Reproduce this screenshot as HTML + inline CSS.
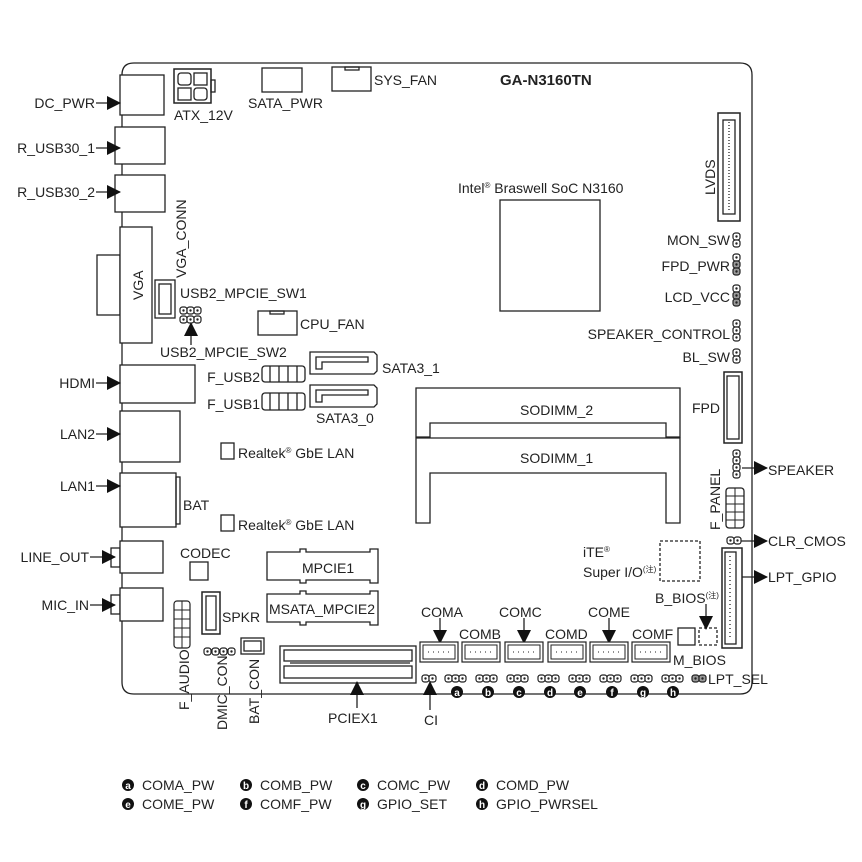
<!DOCTYPE html>
<html><head><meta charset="utf-8"><style>
html,body{margin:0;padding:0;background:#fff}
svg{display:block}
text{font-family:"Liberation Sans","Noto Sans CJK SC",sans-serif;font-size:14px;fill:#222}
</style></head><body>
<svg width="862" height="862" viewBox="0 0 862 862" xmlns="http://www.w3.org/2000/svg">
<defs>
<marker id="ar" markerWidth="10" markerHeight="10" refX="9" refY="5" orient="auto" markerUnits="userSpaceOnUse"><path d="M0,0 L10,5 L0,10 Z" fill="#111"/></marker>
<marker id="ar2" markerWidth="14" markerHeight="14" refX="13" refY="7" orient="auto" markerUnits="userSpaceOnUse"><path d="M0,0 L14,7 L0,14 Z" fill="#111"/></marker>
<g id="pinH"><rect x="0" y="0" width="7" height="7" rx="2.5" fill="#fff" stroke="#222" stroke-width="1.2"/><circle cx="3.5" cy="3.5" r="1.2" fill="#222"/></g>
<g id="pinG"><rect x="0" y="0" width="7" height="7" rx="2.5" fill="#999" stroke="#222" stroke-width="1.2"/><circle cx="3.5" cy="3.5" r="1.2" fill="#222"/></g>
<g id="com"><rect x="0" y="0" width="38" height="20" fill="#fff" stroke="#222" stroke-width="1.2"/><rect x="3" y="3" width="32" height="14" fill="#fff" stroke="#222"/><path d="M8,10 h1 M13,10 h1 M18,10 h1 M23,10 h1 M28,10 h1" stroke="#222" stroke-dasharray="1 1"/></g>
<g id="j3"><use href="#pinH" x="0"/><use href="#pinH" x="7"/><use href="#pinH" x="14"/></g>
</defs>
<g fill="none" stroke="#222" stroke-width="1.3">
<!-- board -->
<path d="M134,63 H740 Q752,63 752,75 V682 Q752,694 740,694 H134 Q122,694 122,682 V75 Q122,63 134,63 Z"/>
<!-- left IO -->
<rect x="120" y="75" width="44" height="40" fill="#fff"/>
<rect x="115" y="127" width="50" height="37" fill="#fff"/>
<rect x="115" y="175" width="50" height="37" fill="#fff"/>
<rect x="97" y="255" width="23" height="60" fill="#fff"/>
<rect x="120" y="227" width="32" height="116" fill="#fff"/>
<rect x="120" y="365" width="75" height="38" fill="#fff"/>
<rect x="120" y="411" width="60" height="51" fill="#fff"/>
<rect x="120" y="473" width="56" height="54" fill="#fff"/>
<rect x="176" y="477" width="4" height="47"/>
<rect x="111" y="548" width="9" height="19" fill="#fff"/>
<rect x="120" y="541" width="43" height="32" fill="#fff"/>
<rect x="111" y="595" width="9" height="19" fill="#fff"/>
<rect x="120" y="588" width="43" height="33" fill="#fff"/>
<!-- top -->
<rect x="174" y="69" width="37" height="34" fill="#fff" stroke-width="1.5"/>
<rect x="211" y="80" width="4" height="12"/>
<rect x="178" y="73" width="13" height="12" rx="3"/><rect x="194" y="73" width="13" height="12"/>
<rect x="178" y="88" width="13" height="12"/><rect x="194" y="88" width="13" height="12" rx="3"/>
<rect x="262" y="68" width="40" height="24"/>
<rect x="332" y="67" width="39" height="24"/><rect x="345" y="67" width="14" height="3"/>
<!-- SoC -->
<rect x="500" y="200" width="100" height="111"/>
<!-- LVDS -->
<rect x="718" y="113" width="22" height="108" stroke-width="1.5"/>
<rect x="723" y="120" width="12" height="94"/>
<line x1="729" y1="122" x2="729" y2="212" stroke-dasharray="1 2"/>
<!-- VGA_CONN -->
<rect x="155" y="280" width="20" height="38"/><rect x="159" y="284" width="12" height="30"/>
<!-- CPU_FAN -->
<rect x="258" y="311" width="39" height="24"/><rect x="270" y="311" width="14" height="3"/>
<!-- SATA -->
<path d="M310,352 H374 L377,355 V371 L374,374 H310 Z"/><path d="M316,357 H368 V362 H322 V369 H316 Z"/>
<path d="M310,385 H374 L377,388 V404 L374,407 H310 Z"/><path d="M316,390 H368 V395 H322 V402 H316 Z"/>
<!-- F_USB -->
<rect x="262" y="366" width="43" height="16" rx="3"/>
<rect x="262" y="393" width="43" height="17" rx="3"/>
<path d="M270,366 V382 M279,366 V382 M288,366 V382 M297,366 V382 M270,393 V410 M279,393 V410 M288,393 V410 M297,393 V410"/>
<!-- SODIMM -->
<path d="M416,388 H680 V437 H666 V423 H430 V437 H416 Z"/>
<path d="M416,438 H680 V523 H666 V473 H430 V523 H416 Z"/>
<!-- FPD -->
<rect x="724" y="372" width="18" height="71" stroke-width="1.5"/><rect x="727" y="376" width="12" height="63"/>
<!-- Realtek -->
<rect x="221" y="443" width="13" height="16"/>
<rect x="221" y="515" width="13" height="16"/>
<!-- codec -->
<rect x="190" y="562" width="18" height="18"/>
<!-- MPCIE -->
<path d="M267,552 H300 V549 H306 V552 H370 V549 H378 V583 H370 V580 H306 V583 H300 V580 H267 Z"/>
<path d="M267,594 H300 V591 H306 V594 H370 V591 H378 V625 H370 V622 H306 V625 H300 V622 H267 Z"/>
<!-- SPKR -->
<rect x="202" y="592" width="18" height="42" stroke-width="1.5"/><rect x="206" y="596" width="10" height="34"/>
<!-- BAT_CON -->
<rect x="241" y="638" width="23" height="16"/><rect x="244" y="641" width="17" height="10"/>
<!-- PCIEX1 -->
<rect x="280" y="646" width="136" height="37"/>
<rect x="284" y="650" width="128" height="11"/><rect x="284" y="666" width="128" height="12"/>
<line x1="290" y1="663" x2="410" y2="663"/>
<!-- Super IO / bios -->
<rect x="660" y="541" width="40" height="40" stroke-dasharray="3 2"/>
<rect x="678" y="628" width="17" height="17"/>
<rect x="699" y="628" width="18" height="17" stroke-dasharray="3 2"/>
<!-- LPT_GPIO -->
<rect x="722" y="548" width="20" height="100" stroke-width="1.5"/><rect x="725" y="552" width="11" height="92"/>
<line x1="730" y1="556" x2="730" y2="640" stroke-dasharray="1 3"/>
<!-- arrows left -->
<line x1="96" y1="103" x2="120" y2="103" marker-end="url(#ar2)"/>
<line x1="96" y1="148" x2="120" y2="148" marker-end="url(#ar2)"/>
<line x1="96" y1="192" x2="120" y2="192" marker-end="url(#ar2)"/>
<line x1="96" y1="383" x2="120" y2="383" marker-end="url(#ar2)"/>
<line x1="96" y1="434" x2="120" y2="434" marker-end="url(#ar2)"/>
<line x1="96" y1="486" x2="120" y2="486" marker-end="url(#ar2)"/>
<line x1="90" y1="557" x2="115" y2="557" marker-end="url(#ar2)"/>
<line x1="90" y1="605" x2="115" y2="605" marker-end="url(#ar2)"/>
<!-- arrows right -->
<line x1="742" y1="468" x2="767" y2="468" marker-end="url(#ar2)"/>
<line x1="740" y1="541" x2="767" y2="541" marker-end="url(#ar2)"/>
<line x1="742" y1="577" x2="767" y2="577" marker-end="url(#ar2)"/>
<!-- vertical arrows -->
<line x1="191" y1="345" x2="191" y2="323" marker-end="url(#ar2)"/>
<line x1="357" y1="708" x2="357" y2="682" marker-end="url(#ar2)"/>
<line x1="430" y1="710" x2="430" y2="682" marker-end="url(#ar2)"/>
<line x1="440" y1="618" x2="440" y2="643" marker-end="url(#ar2)"/>
<line x1="524" y1="618" x2="524" y2="643" marker-end="url(#ar2)"/>
<line x1="609" y1="618" x2="609" y2="643" marker-end="url(#ar2)"/>
<line x1="706" y1="604" x2="706" y2="629" marker-end="url(#ar2)"/>
</g>
<!-- COM connectors -->
<use href="#com" x="420" y="642"/><use href="#com" x="462" y="642"/><use href="#com" x="505" y="642"/>
<use href="#com" x="548" y="642"/><use href="#com" x="590" y="642"/><use href="#com" x="632" y="642"/>
<!-- pins: USB2_MPCIE_SW2 -->
<use href="#j3" x="180" y="307"/><use href="#j3" x="180" y="316"/>
<!-- DMIC -->
<use href="#pinH" x="204" y="648"/><use href="#pinH" x="212" y="648"/><use href="#pinH" x="220" y="648"/><use href="#pinH" x="228" y="648"/>
<!-- F_AUDIO -->
<g><rect x="174" y="601" width="16" height="47" rx="3" fill="#fff" stroke="#222" stroke-width="1.2"/>
<path d="M174,610 H190 M174,619 H190 M174,628 H190 M174,637 H190 M182,601 V648" stroke="#222"/></g>
<!-- F_PANEL -->
<use href="#pinH" x="733" y="450"/><use href="#pinH" x="733" y="457"/><use href="#pinH" x="733" y="464"/><use href="#pinH" x="733" y="471"/>
<g><rect x="726" y="488" width="18" height="40" rx="3" fill="#fff" stroke="#222" stroke-width="1.3"/>
<path d="M726,496 H744 M726,504 H744 M726,512 H744 M726,520 H744 M735,488 V528" stroke="#222"/></g>
<use href="#pinH" x="727" y="537"/><use href="#pinH" x="734" y="537"/>
<!-- right jumpers -->
<use href="#pinH" x="733" y="233"/><use href="#pinH" x="733" y="240"/>
<use href="#pinH" x="733" y="254"/><use href="#pinG" x="733" y="261"/><use href="#pinG" x="733" y="268"/>
<use href="#pinH" x="733" y="285"/><use href="#pinG" x="733" y="292"/><use href="#pinG" x="733" y="299"/>
<use href="#pinH" x="733" y="320"/><use href="#pinH" x="733" y="327"/><use href="#pinH" x="733" y="334"/>
<use href="#pinH" x="733" y="349"/><use href="#pinH" x="733" y="356"/>
<!-- bottom jumper row -->
<use href="#pinH" x="422" y="675"/><use href="#pinH" x="429" y="675"/>
<use href="#j3" x="445" y="675"/><use href="#j3" x="476" y="675"/><use href="#j3" x="507" y="675"/><use href="#j3" x="538" y="675"/>
<use href="#j3" x="569" y="675"/><use href="#j3" x="600" y="675"/><use href="#j3" x="631" y="675"/><use href="#j3" x="662" y="675"/>
<use href="#pinG" x="692" y="675"/><use href="#pinG" x="699" y="675"/>
<!-- circled letters -->
<g font-family="Liberation Serif" font-weight="bold">
<g fill="#111"><circle cx="457" cy="692" r="6"/><circle cx="488" cy="692" r="6"/><circle cx="519" cy="692" r="6"/><circle cx="550" cy="692" r="6"/><circle cx="580" cy="692" r="6"/><circle cx="612" cy="692" r="6"/><circle cx="643" cy="692" r="6"/><circle cx="673" cy="692" r="6"/>
<circle cx="128" cy="785" r="6"/><circle cx="246" cy="785" r="6"/><circle cx="363" cy="785" r="6"/><circle cx="482" cy="785" r="6"/>
<circle cx="128" cy="804" r="6"/><circle cx="246" cy="804" r="6"/><circle cx="363" cy="804" r="6"/><circle cx="482" cy="804" r="6"/></g>
<g style="fill:#fff;font-size:10px;font-family:'Liberation Serif';font-weight:bold" text-anchor="middle">
<text x="457" y="696" style="fill:#fff;font-size:10px">a</text><text x="488" y="696" style="fill:#fff;font-size:10px">b</text><text x="519" y="696" style="fill:#fff;font-size:10px">c</text><text x="550" y="696" style="fill:#fff;font-size:10px">d</text><text x="580" y="696" style="fill:#fff;font-size:10px">e</text><text x="612" y="696" style="fill:#fff;font-size:10px">f</text><text x="643" y="696" style="fill:#fff;font-size:10px">g</text><text x="673" y="696" style="fill:#fff;font-size:10px">h</text>
<text x="128" y="789" style="fill:#fff;font-size:10px">a</text><text x="246" y="789" style="fill:#fff;font-size:10px">b</text><text x="363" y="789" style="fill:#fff;font-size:10px">c</text><text x="482" y="789" style="fill:#fff;font-size:10px">d</text>
<text x="128" y="808" style="fill:#fff;font-size:10px">e</text><text x="246" y="808" style="fill:#fff;font-size:10px">f</text><text x="363" y="808" style="fill:#fff;font-size:10px">g</text><text x="482" y="808" style="fill:#fff;font-size:10px">h</text>
</g></g>
<!-- labels -->
<g text-anchor="end">
<text x="95" y="108">DC_PWR</text><text x="95" y="153">R_USB30_1</text><text x="95" y="197">R_USB30_2</text>
<text x="95" y="388">HDMI</text><text x="95" y="439">LAN2</text><text x="95" y="491">LAN1</text>
<text x="89" y="562">LINE_OUT</text><text x="89" y="610">MIC_IN</text>
<text x="730" y="245">MON_SW</text><text x="730" y="271">FPD_PWR</text><text x="730" y="302">LCD_VCC</text>
<text x="730" y="339">SPEAKER_CONTROL</text><text x="730" y="362">BL_SW</text>
<text x="720" y="413">FPD</text>
<text x="260" y="382">F_USB2</text><text x="260" y="409">F_USB1</text>
</g>
<text x="174" y="120">ATX_12V</text><text x="248" y="108">SATA_PWR</text><text x="374" y="85">SYS_FAN</text>
<text x="500" y="85" style="font-weight:bold;font-size:15px">GA-N3160TN</text>
<text x="458" y="193">Intel<tspan style="font-size:8px" dy="-5">®</tspan><tspan dy="5"> Braswell SoC N3160</tspan></text>
<text x="180" y="298">USB2_MPCIE_SW1</text><text x="160" y="357">USB2_MPCIE_SW2</text>
<text x="300" y="329">CPU_FAN</text>
<text x="382" y="373">SATA3_1</text><text x="316" y="423">SATA3_0</text>
<text x="520" y="415">SODIMM_2</text><text x="520" y="463">SODIMM_1</text>
<text x="238" y="458">Realtek<tspan style="font-size:8px" dy="-5">®</tspan><tspan dy="5"> GbE LAN</tspan></text>
<text x="238" y="530">Realtek<tspan style="font-size:8px" dy="-5">®</tspan><tspan dy="5"> GbE LAN</tspan></text>
<text x="183" y="510">BAT</text><text x="180" y="558">CODEC</text>
<text x="302" y="573">MPCIE1</text><text x="269" y="614">MSATA_MPCIE2</text>
<text x="222" y="622">SPKR</text>
<text x="328" y="723">PCIEX1</text><text x="424" y="725">CI</text>
<text x="421" y="617">COMA</text><text x="459" y="639">COMB</text><text x="499" y="617">COMC</text>
<text x="545" y="639">COMD</text><text x="588" y="617">COME</text><text x="632" y="639">COMF</text>
<text x="673" y="665">M_BIOS</text>
<text x="655" y="603">B_BIOS<tspan style="font-size:8px" dy="-5">(注)</tspan></text>
<text x="583" y="557">iTE<tspan style="font-size:8px" dy="-5">®</tspan></text>
<text x="583" y="577">Super I/O<tspan style="font-size:8px" dy="-5">(注)</tspan></text>
<text x="708" y="684">LPT_SEL</text>
<text x="768" y="475">SPEAKER</text><text x="768" y="546">CLR_CMOS</text><text x="768" y="582">LPT_GPIO</text>
<text transform="translate(143,300) rotate(-90)">VGA</text>
<text transform="translate(186,278) rotate(-90)">VGA_CONN</text>
<text transform="translate(715,195) rotate(-90)">LVDS</text>
<text transform="translate(720,530) rotate(-90)">F_PANEL</text>
<text transform="translate(189,710) rotate(-90)">F_AUDIO</text>
<text transform="translate(227,730) rotate(-90)">DMIC_CON</text>
<text transform="translate(259,724) rotate(-90)">BAT_CON</text>
<!-- legend -->
<text x="142" y="790">COMA_PW</text><text x="260" y="790">COMB_PW</text><text x="377" y="790">COMC_PW</text><text x="496" y="790">COMD_PW</text>
<text x="142" y="809">COME_PW</text><text x="260" y="809">COMF_PW</text><text x="377" y="809">GPIO_SET</text><text x="496" y="809">GPIO_PWRSEL</text>
</svg>
</body></html>
